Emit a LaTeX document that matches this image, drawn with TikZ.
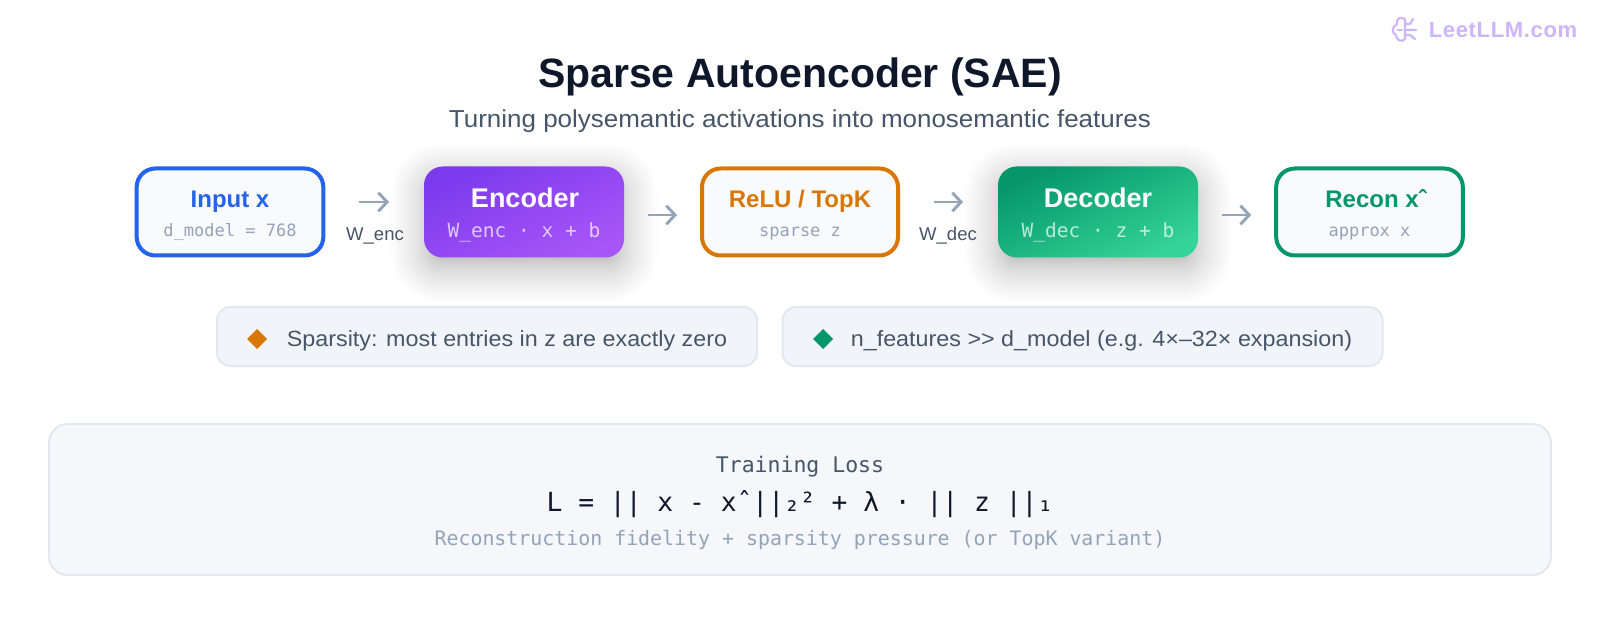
\documentclass[tikz,border=0pt]{standalone}
\usepackage{fontspec}
\usetikzlibrary{arrows.meta,calc,shapes.geometric}
\setmainfont{Liberation Sans}
\newfontfamily\monof{DejaVu Sans Mono}
\newfontfamily\wmfont[LetterSpace=3]{Liberation Sans}
\newfontfamily\widef[FakeStretch=1.06]{Liberation Sans}
\newcommand{\pxf}[1]{\pgfmathsetmacro{\fsz}{#1*0.75}\fontsize{\fsz pt}{\fsz pt}\selectfont}
\definecolor{slateA}{HTML}{0F172A}
\definecolor{slateB}{HTML}{475569}
\definecolor{slateC}{HTML}{94A3B8}
\definecolor{cardbg}{HTML}{F8FAFC}
\definecolor{pillbg}{HTML}{F1F5F9}
\definecolor{pillbd}{HTML}{E2E8F0}
\definecolor{lossbg}{HTML}{F5F7FB}
\definecolor{cblue}{HTML}{2563EB}
\definecolor{corange}{HTML}{D97706}
\definecolor{cgreen}{HTML}{059669}
\definecolor{wm}{HTML}{CDB4FB}
\definecolor{vA}{HTML}{7C3AED}
\definecolor{vB}{HTML}{A855F7}
\definecolor{gA}{HTML}{059669}
\definecolor{gB}{HTML}{34D399}
\tikzset{
  px/.style={x=0.75pt,y=-0.75pt},
  txt/.style={inner sep=0pt,outer sep=0pt,anchor=base},
  card/.style={draw=#1,fill=cardbg,line width=3pt,rounded corners=14pt,minimum height=65.25pt,inner sep=0pt,outer sep=0pt},
  gradcard/.style 2 args={left color=#1,right color=#2,shading angle=25,rounded corners=14pt,minimum height=68.25pt,inner sep=0pt,outer sep=0pt},
  pill/.style={draw=pillbd,fill=pillbg,line width=1.5pt,rounded corners=10pt,minimum height=44.25pt,inner sep=0pt,outer sep=0pt},
  flow/.style={draw=slateC,line width=2.2pt,-{Straight Barb[length=6.5pt,width=14pt,line width=2.2pt]}},
  head/.style={txt,font=\bfseries\pxf{24}},
  sub/.style={txt,font=\monof\pxf{17}},
  mark/.style={diamond,aspect=1,fill=#1,minimum size=15pt,inner sep=0pt,outer sep=0pt},
}
\newcommand{\softshadow}[4]{%
  \foreach \i in {0,...,39}{%
    \pgfmathsetmacro{\e}{-14+48*(\i/39)^2}%
    \pgfmathsetmacro{\rr}{max(4,18+\e)*0.75}%
    \fill[black,opacity=0.006,rounded corners=\rr pt] (#1-\e,#2-\e+11) rectangle (#3+\e,#4+\e+11);
  }}
\begin{document}
\begin{tikzpicture}[px]
\useasboundingbox (0,0) rectangle (1600,624);
\fill[white] (0,0) rectangle (1600,624);

% watermark
\begin{scope}[wm,line width=1.6pt,line cap=round,line join=round]
\draw (1405,19) .. controls (1400,16) and (1396,19) .. (1397,24) .. controls (1392,26) and (1391,33) .. (1396,35) .. controls (1396,40) and (1402,43) .. (1405,39) -- (1405,19);
\draw (1405,24) -- (1410,24) -- (1413,19) (1405,30) -- (1416,30) (1405,35) -- (1410,35) -- (1415,39);
\draw (1398,30) -- (1402,30);
\end{scope}
\node[txt,wm,font=\wmfont\bfseries\pxf{22}] (wmtext) at (1503,38) {LeetLLM.com};

% titles
\node[txt,slateA,font=\bfseries\pxf{41}] (title) at (800,88) {Sparse Autoencoder (SAE)};
\node[txt,slateB,font=\widef\pxf{24.5}] (subtitle) at (800,128) {Turning polysemantic activations into monosemantic features};

% shadows
\softshadow{424}{166}{624}{258}
\softshadow{998}{166}{1198}{258}

% main boxes
\node[card=cblue,minimum width=140pt] (input) at (230,212) {};
\node[gradcard={vA}{vB},minimum width=150pt] (encoder) at (524,212) {};
\node[card=corange,minimum width=147pt] (relu) at (800,212) {};
\node[gradcard={gA}{gB},minimum width=150pt] (decoder) at (1098,212) {};
\node[card=cgreen,minimum width=140pt] (recon) at (1369.5,212) {};

\node[head,cblue] (inputT) at (230,208) {Input x};
\node[sub,slateC] (inputS) at (230,237) {d\_model = 768};
\node[head,white,font=\bfseries\pxf{27}] (encT) at (525,208) {Encoder};
\node[sub,white,opacity=.7,font=\monof\pxf{19.5}] (encS) at (524,238) {W\_enc · x + b};
\node[head,corange] (reluT) at (800,208) {ReLU / TopK};
\node[sub,slateC] (reluS) at (800,237) {sparse z};
\node[head,white,font=\bfseries\pxf{27}] (decT) at (1098,208) {Decoder};
\node[sub,white,opacity=.7,font=\monof\pxf{19.5}] (decS) at (1098,238) {W\_dec · z + b};
\node[head,cgreen] (reconT) at (1376,208) {Recon xˆ};
\node[sub,slateC] (reconS) at (1369.5,237) {approx x};

% connectors
\coordinate (a1s) at ($(input.east)+(36,-10)$);
\coordinate (a1e) at ($(encoder.west)+(-35,-10)$);
\coordinate (a2s) at ($(encoder.east)+(24,3)$);
\coordinate (a2e) at ($(relu.west)+(-25,3)$);
\coordinate (a3s) at ($(relu.east)+(36,-10)$);
\coordinate (a3e) at ($(decoder.west)+(-35,-10)$);
\coordinate (a4s) at ($(decoder.east)+(24,3)$);
\coordinate (a4e) at ($(recon.west)+(-25,3)$);
\draw[flow] (a1s) -- (a1e);
\draw[flow] (a2s) -- (a2e);
\draw[flow] (a3s) -- (a3e);
\draw[flow] (a4s) -- (a4e);
\node[txt,slateB,font=\pxf{18.5}] (wenc) at (375,240) {W\_enc};
\node[txt,slateB,font=\pxf{18.5}] (wdec) at (948,240) {W\_dec};

% pills
\node[pill,minimum width=405pt] (pillA) at (487,336.5) {};
\node[pill,minimum width=450pt] (pillB) at (1082.5,336.5) {};
\node[mark=corange] (dA) at (257,339) {};
\node[mark=cgreen] (dB) at (823,339) {};
\node[txt,slateB,font=\widef\pxf{22}] (pillAT) at (507,346) {Sparsity: most entries in z are exactly zero};
\node[txt,slateB,font=\widef\pxf{22}] (pillBT) at (1101.5,346) {n\_features {>}{>} d\_model (e.g. 4×–32× expansion)};

% loss
\node[draw=pillbd,fill=lossbg,line width=1.5pt,rounded corners=14pt,minimum width=1126.5pt,minimum height=113.25pt,inner sep=0pt] (loss) at (800,499.5) {};
\node[txt,slateB,font=\monof\pxf{21.5}] (lossT) at (800,472) {Training Loss};
\node[txt,slateA,font=\monof\pxf{26.3}] (lossF) at (800,511) {L = || x - xˆ||₂² + λ · || z ||₁};
\node[txt,slateC,font=\monof\pxf{19.9}] (lossN) at (800,545) {Reconstruction fidelity + sparsity pressure (or TopK variant)};
\end{tikzpicture}
\end{document}
